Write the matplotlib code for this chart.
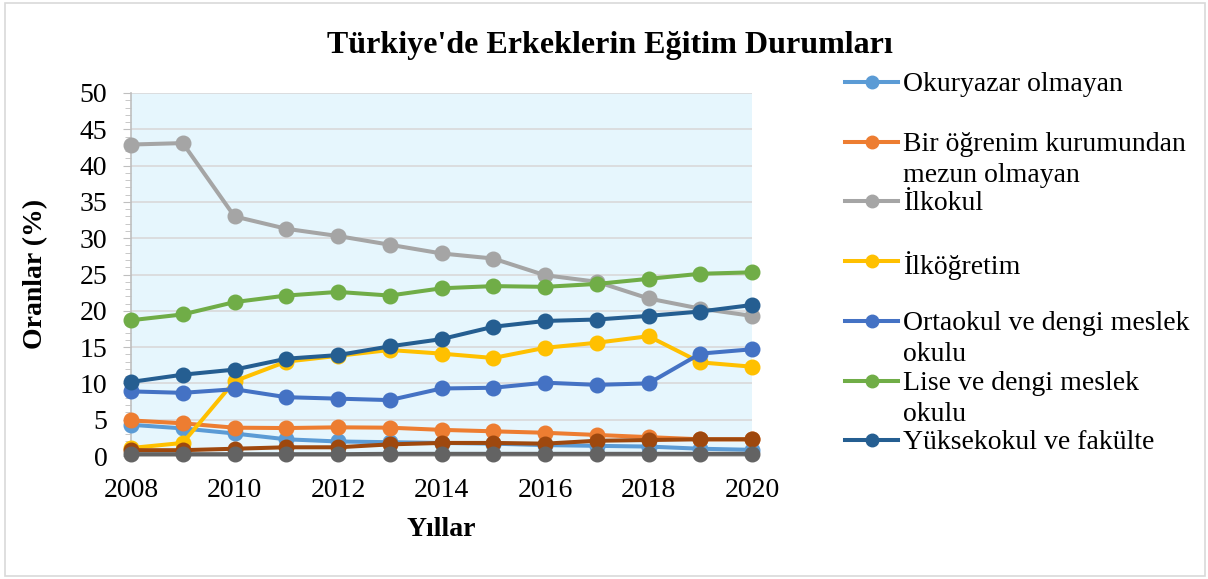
import matplotlib
matplotlib.use("Agg")
import matplotlib.pyplot as plt
from matplotlib.lines import Line2D
from matplotlib.patches import Rectangle
from matplotlib.ticker import MultipleLocator

plt.rcParams['font.family'] = ['Liberation Serif', 'DejaVu Serif']

years = list(range(2008, 2021))

okuryazar_olmayan = [4.3, 3.8, 3.1, 2.3, 2.0, 1.9, 1.8, 1.7, 1.5, 1.4, 1.3, 1.0, 0.85]
bir_ogrenim = [4.9, 4.5, 3.9, 3.85, 3.95, 3.9, 3.6, 3.4, 3.2, 2.9, 2.6, 2.3, 2.3]
ilkokul = [42.9, 43.1, 33.0, 31.3, 30.3, 29.1, 27.9, 27.2, 24.9, 24.0, 21.7, 20.3, 19.3]
ilkogretim = [1.1, 1.8, 10.3, 13.0, 13.8, 14.6, 14.1, 13.5, 14.9, 15.6, 16.5, 12.9, 12.3]
ortaokul = [8.9, 8.7, 9.2, 8.1, 7.9, 7.7, 9.3, 9.4, 10.1, 9.8, 10.0, 14.1, 14.7]
lise = [18.7, 19.5, 21.2, 22.1, 22.6, 22.1, 23.1, 23.4, 23.3, 23.7, 24.4, 25.1, 25.3]
yuksekokul = [10.2, 11.2, 11.9, 13.4, 13.9, 15.1, 16.1, 17.8, 18.6, 18.8, 19.3, 19.9, 20.8]
diger_1 = [0.8, 0.8, 1.0, 1.2, 1.2, 1.6, 1.8, 1.8, 1.7, 2.1, 2.2, 2.3, 2.3]
diger_2 = [0.25, 0.25, 0.25, 0.25, 0.25, 0.3, 0.3, 0.3, 0.3, 0.3, 0.3, 0.3, 0.3]

labels = ["Okuryazar olmayan",
          "Bir öğrenim kurumundan\nmezun olmayan",
          "İlkokul",
          "İlköğretim",
          "Ortaokul ve dengi meslek\nokulu",
          "Lise ve dengi meslek\nokulu",
          "Yüksekokul ve fakülte"]

series = [okuryazar_olmayan, bir_ogrenim, ilkokul, ilkogretim, ortaokul, lise,
          yuksekokul, diger_1, diger_2]
colors = ['#5B9BD5', '#ED7D31', '#A5A5A5', '#FFC000', '#4472C4', '#70AD47',
          '#255E91', '#9E480E', '#636363']

W, H = 1208, 579
fig = plt.figure(figsize=(W / 100, H / 100), dpi=100)
fig.patch.set_facecolor('white')

# outer frame
fig.add_artist(Rectangle((5 / W, 3 / H), 1200 / W, 573 / H, transform=fig.transFigure,
                         fill=False, edgecolor='#D9D9D9', lw=1.2))

ax = fig.add_axes([131 / W, 1 - 456 / H, (752 - 131) / W, (456 - 93) / H])
ax.set_facecolor('#E6F6FD')

for i, (vals, c) in enumerate(zip(series, colors)):
    ax.plot(years, vals, color=c, lw=2.9, marker='o', markersize=10.5,
            clip_on=False, zorder=3 + i, solid_capstyle='round')

ax.set_xlim(2008, 2020)
ax.set_ylim(0, 50)
ax.set_xticks(range(2008, 2021, 2))
ax.set_yticks(range(0, 51, 5))
ax.yaxis.set_minor_locator(MultipleLocator(1))
ax.grid(axis='y', color='#D9D9D9', lw=1.2, zorder=1)
ax.set_axisbelow(True)
for s in ['top', 'right']:
    ax.spines[s].set_visible(False)
ax.spines['left'].set_color('#BFBFBF')
ax.spines['bottom'].set_color('#BFBFBF')
ax.spines['left'].set_linewidth(1.2)
ax.spines['bottom'].set_linewidth(1.2)
ax.tick_params(axis='y', which='major', length=6, color='#BFBFBF', labelsize=20, pad=11)
ax.tick_params(axis='y', which='minor', length=4, color='#BFBFBF')
ax.tick_params(axis='x', which='major', length=0, labelsize=20, pad=15.5)

fig.text(610 / W, 1 - 45 / H, "Türkiye'de Erkeklerin Eğitim Durumları",
         ha='center', va='center', fontsize=23, fontweight='bold')
fig.text(36 / W, 1 - 274 / H, "Oranlar (%)", rotation=90, ha='center', va='center',
         fontsize=20, fontweight='bold')
fig.text(441 / W, 1 - 530 / H, "Yıllar", ha='center', va='center',
         fontsize=20, fontweight='bold')

# legend (manual, Excel-like fixed slots)
for i, (lab, c) in enumerate(zip(labels, colors[:7])):
    yc = 82 + i * 59.7
    yf = 1 - yc / H
    fig.add_artist(Line2D([845 / W, 898 / W], [yf, yf], transform=fig.transFigure,
                          color=c, lw=2.9, marker=None))
    fig.add_artist(Line2D([871.5 / W], [yf], transform=fig.transFigure,
                          color=c, marker='o', markersize=9, lw=0))
    fig.text(903 / W, 1 - (yc - 10) / H, lab, ha='left', va='top', fontsize=20,
             linespacing=1.33)

fig.savefig('out.png', dpi=100)
